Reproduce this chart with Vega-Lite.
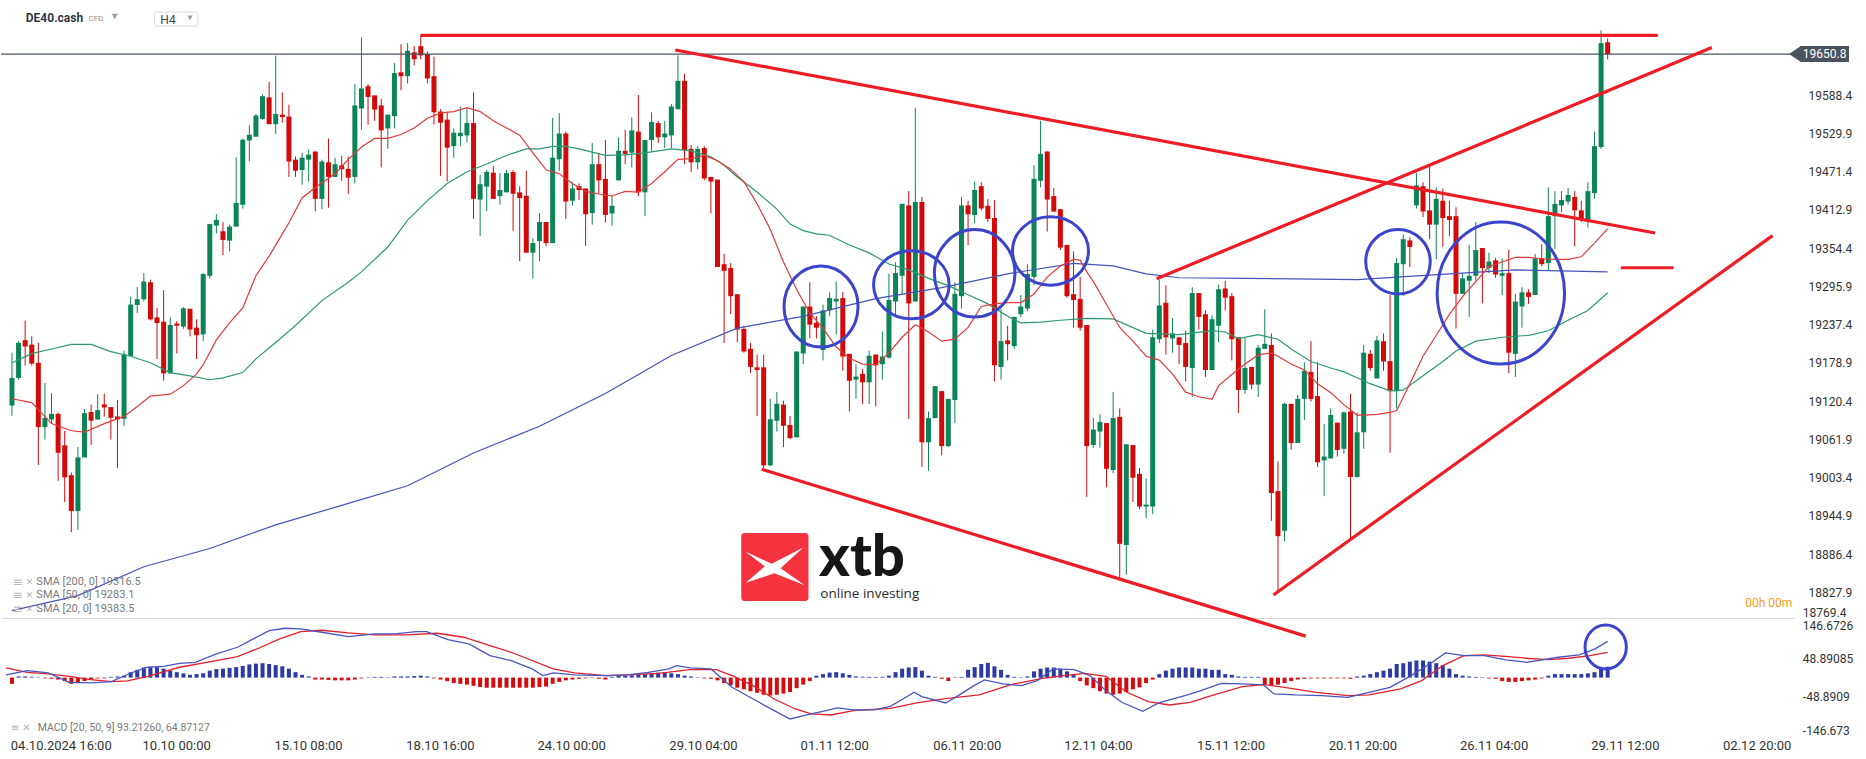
{
"$schema": "https://vega.github.io/schema/vega-lite/v6.json",
"padding": 0,
"background": "white",
"spacing": 2,
"bounds": "flush",
"config": {"view": {"stroke": null}},
"datasets": {
"candles": [
{"i":0,"o":19113.5,"h":19194.5,"l":19097.9,"c":19155.8},{"i":1,"o":19155.8,"h":19211.9,"l":19153.0,"c":19209.5},{"i":2,"o":19213.6,"h":19243.7,"l":19174.8,"c":19203.8},{"i":3,"o":19206.7,"h":19219.4,"l":19174.8,"c":19177.7},{"i":4,"o":19178.9,"h":19209.5,"l":19022.8,"c":19080.6},{"i":5,"o":19080.6,"h":19148.2,"l":19061.5,"c":19094.5},{"i":6,"o":19092.2,"h":19132.6,"l":19086.4,"c":19100.8},{"i":7,"o":19100.8,"h":19103.0,"l":18998.5,"c":19041.3},{"i":8,"o":19052.8,"h":19074.8,"l":18966.1,"c":19003.7},{"i":9,"o":19007.1,"h":19011.2,"l":18919.8,"c":18952.2},
{"i":10,"o":18952.2,"h":19050.0,"l":18923.3,"c":19034.3},{"i":11,"o":19034.3,"h":19108.3,"l":19034.3,"c":19102.0},{"i":12,"o":19103.7,"h":19115.3,"l":19053.4,"c":19090.4},{"i":13,"o":19092.2,"h":19130.9,"l":19092.0,"c":19106.6},{"i":14,"o":19115.3,"h":19131.5,"l":19096.8,"c":19110.7},{"i":15,"o":19111.2,"h":19111.2,"l":19061.5,"c":19095.0},{"i":16,"o":19096.8,"h":19122.2,"l":19018.1,"c":19092.2},{"i":17,"o":19093.3,"h":19197.4,"l":19082.3,"c":19191.6},{"i":18,"o":19189.3,"h":19280.1,"l":19189.3,"c":19268.0},{"i":19,"o":19267.4,"h":19294.6,"l":19255.2,"c":19276.1},
{"i":20,"o":19276.1,"h":19316.0,"l":19272.6,"c":19303.2},{"i":21,"o":19302.1,"h":19306.1,"l":19243.7,"c":19245.4},{"i":22,"o":19248.3,"h":19262.8,"l":19184.7,"c":19239.6},{"i":23,"o":19241.9,"h":19289.9,"l":19151.7,"c":19162.7},{"i":24,"o":19162.7,"h":19248.3,"l":19162.7,"c":19236.7},{"i":25,"o":19239.0,"h":19242.5,"l":19193.4,"c":19235.6},{"i":26,"o":19234.4,"h":19263.9,"l":19231.0,"c":19262.2},{"i":27,"o":19261.6,"h":19261.6,"l":19219.4,"c":19229.8},{"i":28,"o":19232.7,"h":19245.4,"l":19184.7,"c":19221.1},{"i":29,"o":19222.3,"h":19316.0,"l":19211.9,"c":19314.8},
{"i":30,"o":19311.9,"h":19391.1,"l":19307.9,"c":19391.1},{"i":31,"o":19388.8,"h":19406.2,"l":19376.7,"c":19397.5},{"i":32,"o":19380.1,"h":19394.0,"l":19343.7,"c":19366.8},{"i":33,"o":19365.7,"h":19390.0,"l":19349.5,"c":19387.1},{"i":34,"o":19387.1,"h":19492.9,"l":19387.1,"c":19423.5},{"i":35,"o":19420.6,"h":19521.8,"l":19414.8,"c":19520.1},{"i":36,"o":19518.9,"h":19542.1,"l":19487.1,"c":19527.6},{"i":37,"o":19524.7,"h":19559.4,"l":19524.7,"c":19557.1},{"i":38,"o":19551.9,"h":19589.5,"l":19550.7,"c":19586.6},{"i":39,"o":19584.9,"h":19608.6,"l":19543.8,"c":19543.8},
{"i":40,"o":19543.8,"h":19648.5,"l":19528.8,"c":19559.4},{"i":41,"o":19558.3,"h":19592.4,"l":19546.1,"c":19554.8},{"i":42,"o":19555.5,"h":19573.7,"l":19463.2,"c":19486.7},{"i":43,"o":19489.6,"h":19494.3,"l":19463.2,"c":19472.6},{"i":44,"o":19473.7,"h":19500.2,"l":19451.4,"c":19492.6},{"i":45,"o":19489.6,"h":19505.0,"l":19456.1,"c":19497.3},{"i":46,"o":19502.0,"h":19502.0,"l":19410.8,"c":19429.6},{"i":47,"o":19429.6,"h":19489.6,"l":19413.8,"c":19486.7},{"i":48,"o":19485.5,"h":19522.0,"l":19416.1,"c":19463.2},{"i":49,"o":19463.2,"h":19492.6,"l":19463.2,"c":19482.6},
{"i":50,"o":19480.8,"h":19495.5,"l":19457.3,"c":19474.9},{"i":51,"o":19475.5,"h":19494.3,"l":19437.3,"c":19462.0},{"i":52,"o":19463.2,"h":19604.9,"l":19453.2,"c":19572.5},{"i":53,"o":19567.8,"h":19676.6,"l":19535.5,"c":19598.4},{"i":54,"o":19601.9,"h":19604.9,"l":19543.1,"c":19585.5},{"i":55,"o":19587.8,"h":19587.8,"l":19549.0,"c":19566.1},{"i":56,"o":19572.5,"h":19582.5,"l":19477.8,"c":19534.3},{"i":57,"o":19537.3,"h":19558.4,"l":19506.1,"c":19558.4},{"i":58,"o":19556.1,"h":19637.2,"l":19537.3,"c":19621.9},{"i":59,"o":19623.1,"h":19666.0,"l":19595.5,"c":19617.2},
{"i":60,"o":19617.2,"h":19667.8,"l":19606.1,"c":19656.1},{"i":61,"o":19653.7,"h":19663.1,"l":19633.7,"c":19643.1},{"i":62,"o":19663.1,"h":19680.8,"l":19643.1,"c":19649.0},{"i":63,"o":19651.3,"h":19654.9,"l":19606.1,"c":19613.7},{"i":64,"o":19617.2,"h":19647.2,"l":19543.1,"c":19562.0},{"i":65,"o":19563.1,"h":19566.7,"l":19464.9,"c":19546.1},{"i":66,"o":19550.8,"h":19561.9,"l":19456.1,"c":19507.9},{"i":67,"o":19510.2,"h":19537.3,"l":19492.6,"c":19530.8},{"i":68,"o":19525.5,"h":19570.8,"l":19510.2,"c":19530.8},{"i":69,"o":19526.7,"h":19569.0,"l":19516.1,"c":19545.5},
{"i":70,"o":19545.5,"h":19592.5,"l":19399.0,"c":19429.6},{"i":71,"o":19428.5,"h":19466.1,"l":19372.6,"c":19452.0},{"i":72,"o":19448.4,"h":19473.7,"l":19410.8,"c":19470.8},{"i":73,"o":19469.6,"h":19479.6,"l":19429.6,"c":19429.6},{"i":74,"o":19433.8,"h":19469.0,"l":19420.8,"c":19443.2},{"i":75,"o":19439.6,"h":19473.7,"l":19439.6,"c":19469.0},{"i":76,"o":19470.8,"h":19473.7,"l":19380.8,"c":19437.3},{"i":77,"o":19439.6,"h":19449.0,"l":19334.4,"c":19430.8},{"i":78,"o":19434.3,"h":19472.6,"l":19347.3,"c":19347.3},{"i":79,"o":19347.3,"h":19369.6,"l":19307.9,"c":19362.0},
{"i":80,"o":19365.0,"h":19407.9,"l":19334.4,"c":19394.3},{"i":81,"o":19394.3,"h":19394.3,"l":19357.3,"c":19362.0},{"i":82,"o":19362.0,"h":19553.1,"l":19362.0,"c":19492.6},{"i":83,"o":19490.2,"h":19560.8,"l":19472.6,"c":19529.6},{"i":84,"o":19529.6,"h":19532.5,"l":19399.0,"c":19425.5},{"i":85,"o":19426.7,"h":19454.9,"l":19419.6,"c":19445.5},{"i":86,"o":19449.0,"h":19453.2,"l":19427.9,"c":19443.2},{"i":87,"o":19445.5,"h":19445.5,"l":19357.9,"c":19406.1},{"i":88,"o":19407.9,"h":19514.9,"l":19390.2,"c":19482.6},{"i":89,"o":19482.6,"h":19500.2,"l":19437.3,"c":19457.9},
{"i":90,"o":19460.2,"h":19519.6,"l":19393.2,"c":19404.9},{"i":91,"o":19407.3,"h":19434.3,"l":19388.5,"c":19419.0},{"i":92,"o":19457.9,"h":19523.7,"l":19457.9,"c":19503.1},{"i":93,"o":19503.1,"h":19535.5,"l":19482.6,"c":19498.4},{"i":94,"o":19500.2,"h":19554.3,"l":19477.8,"c":19534.3},{"i":95,"o":19532.5,"h":19588.4,"l":19433.8,"c":19439.6},{"i":96,"o":19439.6,"h":19519.6,"l":19403.2,"c":19519.6},{"i":97,"o":19519.6,"h":19562.0,"l":19502.0,"c":19547.2},{"i":98,"o":19545.5,"h":19549.0,"l":19514.9,"c":19523.7},{"i":99,"o":19523.7,"h":19549.0,"l":19507.3,"c":19529.6},
{"i":100,"o":19526.7,"h":19574.9,"l":19507.3,"c":19570.8},{"i":101,"o":19566.7,"h":19649.0,"l":19566.7,"c":19610.2},{"i":102,"o":19610.2,"h":19620.8,"l":19482.6,"c":19504.3},{"i":103,"o":19506.1,"h":19512.0,"l":19470.8,"c":19485.5},{"i":104,"o":19485.5,"h":19510.2,"l":19474.9,"c":19506.1},{"i":105,"o":19507.3,"h":19510.2,"l":19457.9,"c":19460.8},{"i":106,"o":19463.2,"h":19463.2,"l":19407.3,"c":19456.1},{"i":107,"o":19459.0,"h":19459.0,"l":19325.5,"c":19325.5},{"i":108,"o":19329.7,"h":19345.5,"l":19209.1,"c":19319.7},{"i":109,"o":19323.8,"h":19331.4,"l":19253.2,"c":19280.8},
{"i":110,"o":19283.8,"h":19283.8,"l":19210.3,"c":19229.7},{"i":111,"o":19230.9,"h":19235.6,"l":19194.4,"c":19196.2},{"i":112,"o":19200.3,"h":19209.1,"l":19163.2,"c":19172.6},{"i":113,"o":19172.0,"h":19191.5,"l":19097.3,"c":19167.9},{"i":114,"o":19172.0,"h":19191.5,"l":19018.0,"c":19022.1},{"i":115,"o":19022.1,"h":19123.8,"l":19020.9,"c":19092.6},{"i":116,"o":19090.3,"h":19134.4,"l":19073.8,"c":19116.2},{"i":117,"o":19115.0,"h":19120.9,"l":19050.3,"c":19082.6},{"i":118,"o":19083.8,"h":19097.3,"l":19062.1,"c":19063.8},{"i":119,"o":19065.0,"h":19196.2,"l":19065.0,"c":19196.2},
{"i":120,"o":19193.2,"h":19265.0,"l":19176.8,"c":19265.0},{"i":121,"o":19265.0,"h":19302.0,"l":19216.2,"c":19237.3},{"i":122,"o":19240.2,"h":19250.3,"l":19216.2,"c":19232.6},{"i":123,"o":19198.5,"h":19267.9,"l":19182.6,"c":19259.1},{"i":124,"o":19259.1,"h":19286.7,"l":19250.3,"c":19277.9},{"i":125,"o":19272.6,"h":19303.2,"l":19222.0,"c":19276.7},{"i":126,"o":19277.9,"h":19287.3,"l":19166.7,"c":19188.5},{"i":127,"o":19192.6,"h":19192.6,"l":19104.4,"c":19151.5},{"i":128,"o":19153.2,"h":19176.8,"l":19123.8,"c":19157.9},{"i":129,"o":19162.0,"h":19169.1,"l":19116.2,"c":19149.1},
{"i":130,"o":19149.1,"h":19197.3,"l":19116.2,"c":19189.7},{"i":131,"o":19191.5,"h":19191.5,"l":19112.1,"c":19175.0},{"i":132,"o":19176.8,"h":19226.7,"l":19153.2,"c":19188.5},{"i":133,"o":19186.8,"h":19314.9,"l":19185.6,"c":19275.0},{"i":134,"o":19272.6,"h":19332.6,"l":19250.3,"c":19316.1},{"i":135,"o":19312.0,"h":19422.0,"l":19282.6,"c":19422.0},{"i":136,"o":19419.6,"h":19441.4,"l":19093.2,"c":19269.7},{"i":137,"o":19272.6,"h":19569.0,"l":19272.6,"c":19424.9},{"i":138,"o":19424.9,"h":19432.6,"l":19019.7,"c":19057.4},{"i":139,"o":19057.4,"h":19104.4,"l":19013.8,"c":19094.4},
{"i":140,"o":19094.4,"h":19143.2,"l":19094.4,"c":19143.2},{"i":141,"o":19135.6,"h":19135.6,"l":19037.4,"c":19051.5},{"i":142,"o":19051.5,"h":19123.8,"l":19050.3,"c":19123.8},{"i":143,"o":19122.0,"h":19302.0,"l":19086.8,"c":19284.4},{"i":144,"o":19280.8,"h":19432.6,"l":19262.0,"c":19419.6},{"i":145,"o":19419.6,"h":19426.7,"l":19359.1,"c":19406.1},{"i":146,"o":19404.9,"h":19456.1,"l":19392.6,"c":19443.2},{"i":147,"o":19449.0,"h":19454.9,"l":19412.0,"c":19414.9},{"i":148,"o":19419.0,"h":19429.6,"l":19394.4,"c":19399.0},{"i":149,"o":19400.2,"h":19427.9,"l":19150.3,"c":19175.0},
{"i":150,"o":19172.6,"h":19260.8,"l":19153.2,"c":19212.1},{"i":151,"o":19213.2,"h":19235.6,"l":19182.6,"c":19207.4},{"i":152,"o":19204.4,"h":19249.1,"l":19200.3,"c":19249.1},{"i":153,"o":19253.2,"h":19282.6,"l":19249.1,"c":19265.0},{"i":154,"o":19262.0,"h":19329.7,"l":19257.9,"c":19314.9},{"i":155,"o":19310.2,"h":19480.8,"l":19297.3,"c":19460.2},{"i":156,"o":19457.3,"h":19549.0,"l":19447.3,"c":19498.4},{"i":157,"o":19502.0,"h":19502.0,"l":19379.6,"c":19428.5},{"i":158,"o":19433.8,"h":19446.1,"l":19410.2,"c":19410.2},{"i":159,"o":19413.8,"h":19413.8,"l":19351.4,"c":19355.0},
{"i":160,"o":19359.1,"h":19359.1,"l":19278.5,"c":19280.8},{"i":161,"o":19283.8,"h":19349.1,"l":19232.6,"c":19274.9},{"i":162,"o":19276.7,"h":19310.2,"l":19227.9,"c":19232.6},{"i":163,"o":19236.7,"h":19236.7,"l":18973.9,"c":19051.5},{"i":164,"o":19053.3,"h":19094.4,"l":19049.1,"c":19076.8},{"i":165,"o":19073.8,"h":19100.3,"l":19049.1,"c":19088.5},{"i":166,"o":19086.8,"h":19086.8,"l":18988.6,"c":19016.8},{"i":167,"o":19015.0,"h":19134.4,"l":19010.3,"c":19094.4},{"i":168,"o":19096.2,"h":19109.1,"l":18850.3,"c":18902.1},{"i":169,"o":18900.4,"h":19054.4,"l":18855.1,"c":19054.4},
{"i":170,"o":19053.3,"h":19053.3,"l":18966.2,"c":19003.3},{"i":171,"o":19009.1,"h":19018.0,"l":18955.0,"c":18959.1},{"i":172,"o":18959.1,"h":19002.1,"l":18941.5,"c":18962.1},{"i":173,"o":18959.1,"h":19229.7,"l":18947.4,"c":19217.9},{"i":174,"o":19215.0,"h":19306.1,"l":19209.1,"c":19266.7},{"i":175,"o":19270.8,"h":19297.3,"l":19191.5,"c":19217.9},{"i":176,"o":19216.2,"h":19247.3,"l":19194.4,"c":19223.8},{"i":177,"o":19217.9,"h":19217.9,"l":19176.8,"c":19206.2},{"i":178,"o":19209.1,"h":19227.9,"l":19150.3,"c":19172.6},{"i":179,"o":19170.9,"h":19294.4,"l":19126.8,"c":19285.6},
{"i":180,"o":19285.6,"h":19285.6,"l":19229.7,"c":19249.1},{"i":181,"o":19253.2,"h":19259.1,"l":19157.3,"c":19167.9},{"i":182,"o":19167.9,"h":19251.4,"l":19167.9,"c":19245.6},{"i":183,"o":19235.6,"h":19298.5,"l":19210.3,"c":19291.4},{"i":184,"o":19292.6,"h":19304.4,"l":19259.1,"c":19278.5},{"i":185,"o":19280.8,"h":19285.6,"l":19182.6,"c":19215.0},{"i":186,"o":19217.9,"h":19217.9,"l":19102.1,"c":19137.4},{"i":187,"o":19137.4,"h":19217.9,"l":19131.5,"c":19170.9},{"i":188,"o":19172.6,"h":19172.6,"l":19138.5,"c":19145.6},{"i":189,"o":19145.6,"h":19206.1,"l":19126.8,"c":19202.0},
{"i":190,"o":19200.3,"h":19260.8,"l":19200.3,"c":19207.9},{"i":191,"o":19206.1,"h":19223.8,"l":18937.4,"c":18979.7},{"i":192,"o":18982.7,"h":19028.0,"l":18826.8,"c":18913.8},{"i":193,"o":18922.1,"h":19117.9,"l":18906.2,"c":19116.2},{"i":194,"o":19116.2,"h":19116.2,"l":19046.2,"c":19056.2},{"i":195,"o":19056.2,"h":19129.7,"l":19056.2,"c":19123.8},{"i":196,"o":19123.8,"h":19179.7,"l":19091.5,"c":19166.8},{"i":197,"o":19165.0,"h":19212.0,"l":19119.7,"c":19123.8},{"i":198,"o":19127.9,"h":19179.7,"l":19019.7,"c":19026.8},{"i":199,"o":19029.7,"h":19085.6,"l":18975.0,"c":19035.6},
{"i":200,"o":19032.6,"h":19109.1,"l":19032.6,"c":19099.1},{"i":201,"o":19087.4,"h":19087.4,"l":19035.6,"c":19045.6},{"i":202,"o":19047.4,"h":19104.4,"l":19039.7,"c":19103.2},{"i":203,"o":19104.4,"h":19131.5,"l":18910.3,"c":19004.4},{"i":204,"o":19004.4,"h":19103.2,"l":19003.3,"c":19072.7},{"i":205,"o":19072.7,"h":19206.1,"l":19047.4,"c":19194.4},{"i":206,"o":19192.6,"h":19198.5,"l":19166.8,"c":19170.9},{"i":207,"o":19155.0,"h":19219.7,"l":19155.0,"c":19213.2},{"i":208,"o":19212.0,"h":19223.8,"l":19166.8,"c":19180.9},{"i":209,"o":19181.5,"h":19282.6,"l":19041.5,"c":19135.6},
{"i":210,"o":19135.6,"h":19339.6,"l":19109.1,"c":19331.4},{"i":211,"o":19329.7,"h":19375.0,"l":19280.8,"c":19367.9},{"i":212,"o":19366.1,"h":19370.8,"l":19325.5,"c":19356.1},{"i":213,"o":19419.6,"h":19469.0,"l":19415.0,"c":19450.2},{"i":214,"o":19449.0,"h":19454.9,"l":19402.0,"c":19410.2},{"i":215,"o":19412.0,"h":19479.6,"l":19367.9,"c":19390.2},{"i":216,"o":19390.2,"h":19447.3,"l":19337.3,"c":19429.6},{"i":217,"o":19426.7,"h":19445.5,"l":19356.1,"c":19400.2},{"i":218,"o":19403.2,"h":19426.7,"l":19372.6,"c":19397.3},{"i":219,"o":19403.2,"h":19416.7,"l":19231.4,"c":19284.4},
{"i":220,"o":19284.4,"h":19316.1,"l":19284.4,"c":19308.0},{"i":221,"o":19304.4,"h":19359.1,"l":19249.1,"c":19312.0},{"i":222,"o":19312.0,"h":19394.3,"l":19304.4,"c":19351.4},{"i":223,"o":19354.4,"h":19354.4,"l":19269.7,"c":19323.8},{"i":224,"o":19323.8,"h":19347.3,"l":19316.1,"c":19333.8},{"i":225,"o":19335.6,"h":19339.6,"l":19309.1,"c":19313.8},{"i":226,"o":19312.0,"h":19338.5,"l":19282.6,"c":19316.1},{"i":227,"o":19316.1,"h":19351.4,"l":19163.2,"c":19194.4},{"i":228,"o":19192.6,"h":19284.4,"l":19157.3,"c":19272.6},{"i":229,"o":19265.0,"h":19294.4,"l":19232.6,"c":19286.7},
{"i":230,"o":19286.7,"h":19291.4,"l":19269.1,"c":19279.7},{"i":231,"o":19282.6,"h":19345.5,"l":19282.6,"c":19338.5},{"i":232,"o":19338.5,"h":19360.2,"l":19326.7,"c":19329.7},{"i":233,"o":19331.4,"h":19447.3,"l":19319.7,"c":19403.2},{"i":234,"o":19403.2,"h":19441.4,"l":19353.2,"c":19422.0},{"i":235,"o":19419.6,"h":19441.4,"l":19409.0,"c":19427.9},{"i":236,"o":19425.5,"h":19446.1,"l":19420.8,"c":19435.5},{"i":237,"o":19432.6,"h":19441.4,"l":19357.3,"c":19412.0},{"i":238,"o":19412.0,"h":19426.7,"l":19394.3,"c":19400.2},{"i":239,"o":19397.3,"h":19454.9,"l":19385.5,"c":19441.4},
{"i":240,"o":19438.5,"h":19532.5,"l":19429.6,"c":19510.2},{"i":241,"o":19509.0,"h":19687.2,"l":19506.1,"c":19667.8},{"i":242,"o":19669.0,"h":19674.9,"l":19643.1,"c":19650.8}
],
"sma20": [
{"i":0,"v":19124},{"i":3,"v":19118},{"i":6,"v":19086},{"i":9,"v":19075},{"i":11,"v":19073},{"i":14,"v":19086},{"i":17,"v":19097},{"i":19,"v":19112},{"i":21,"v":19128},{"i":24,"v":19131},{"i":26,"v":19144},{"i":28,"v":19162},{"i":29,"v":19176},{"i":31,"v":19214},{"i":33,"v":19240},{"i":35,"v":19263},{"i":37,"v":19312},{"i":39,"v":19342},{"i":41,"v":19376},{"i":42,"v":19393},{"i":44,"v":19431},{"i":46,"v":19447},{"i":49,"v":19468},{"i":51,"v":19490},{"i":53,"v":19509},{"i":55,"v":19522},{"i":57,"v":19522},{"i":59,"v":19528},{"i":61,"v":19538},{"i":63,"v":19553},{"i":65,"v":19561},{"i":67,"v":19563},{"i":69,"v":19569},{"i":71,"v":19563},{"i":73,"v":19549},{"i":75,"v":19538},{"i":77,"v":19527},{"i":79,"v":19500},{"i":81,"v":19474},{"i":83,"v":19468},{"i":85,"v":19453},{"i":87,"v":19441},{"i":89,"v":19437},{"i":91,"v":19434},{"i":93,"v":19441},{"i":95,"v":19440},{"i":97,"v":19453},{"i":99,"v":19471},{"i":101,"v":19490},{"i":103,"v":19491},{"i":105,"v":19496},{"i":107,"v":19488},{"i":109,"v":19475},{"i":111,"v":19456},{"i":113,"v":19422},{"i":115,"v":19383},{"i":117,"v":19333},{"i":119,"v":19291},{"i":121,"v":19255},{"i":123,"v":19232},{"i":125,"v":19203},{"i":127,"v":19186},{"i":129,"v":19177},{"i":131,"v":19176},{"i":133,"v":19194},{"i":135,"v":19218},{"i":137,"v":19237},{"i":139,"v":19226},{"i":141,"v":19212},{"i":143,"v":19215},{"i":145,"v":19233},{"i":147,"v":19265},{"i":149,"v":19269},{"i":151,"v":19271},{"i":153,"v":19271},{"i":155,"v":19284},{"i":157,"v":19310},{"i":159,"v":19327},{"i":161,"v":19337},{"i":162,"v":19336},{"i":163,"v":19318},{"i":164,"v":19303},{"i":166,"v":19268},{"i":168,"v":19233},{"i":170,"v":19212},{"i":172,"v":19189},{"i":174,"v":19183},{"i":176,"v":19162},{"i":178,"v":19134},{"i":180,"v":19127},{"i":182,"v":19123},{"i":183,"v":19144},{"i":185,"v":19161},{"i":187,"v":19177},{"i":189,"v":19191},{"i":191,"v":19194},{"i":192,"v":19189},{"i":194,"v":19177},{"i":196,"v":19168},{"i":198,"v":19147},{"i":200,"v":19133},{"i":202,"v":19115},{"i":204,"v":19099},{"i":205,"v":19099},{"i":207,"v":19100},{"i":209,"v":19103},{"i":210,"v":19106},{"i":212,"v":19147},{"i":214,"v":19189},{"i":216,"v":19221},{"i":218,"v":19253},{"i":220,"v":19280},{"i":222,"v":19303},{"i":224,"v":19326},{"i":226,"v":19333},{"i":228,"v":19340},{"i":230,"v":19340},{"i":232,"v":19338},{"i":234,"v":19337},{"i":236,"v":19337},{"i":238,"v":19341},{"i":240,"v":19362},{"i":242,"v":19384}
],
"sma50": [
{"i":0,"v":19179},{"i":3,"v":19193},{"i":6,"v":19200},{"i":9,"v":19207},{"i":12,"v":19207},{"i":15,"v":19196},{"i":18,"v":19189},{"i":21,"v":19179},{"i":24,"v":19164},{"i":27,"v":19159},{"i":30,"v":19153},{"i":32,"v":19156},{"i":35,"v":19164},{"i":37,"v":19185},{"i":40,"v":19210},{"i":43,"v":19236},{"i":47,"v":19274},{"i":51,"v":19302},{"i":53,"v":19318},{"i":57,"v":19356},{"i":60,"v":19397},{"i":63,"v":19427},{"i":66,"v":19453},{"i":69,"v":19471},{"i":72,"v":19483},{"i":75,"v":19496},{"i":78,"v":19506},{"i":80,"v":19506},{"i":82,"v":19510},{"i":84,"v":19510},{"i":86,"v":19506},{"i":90,"v":19496},{"i":93,"v":19497},{"i":96,"v":19500},{"i":100,"v":19506},{"i":103,"v":19503},{"i":106,"v":19494},{"i":108,"v":19481},{"i":110,"v":19463},{"i":113,"v":19440},{"i":116,"v":19414},{"i":118,"v":19391},{"i":120,"v":19381},{"i":122,"v":19376},{"i":124,"v":19374},{"i":127,"v":19359},{"i":130,"v":19347},{"i":133,"v":19330},{"i":136,"v":19321},{"i":139,"v":19308},{"i":142,"v":19297},{"i":145,"v":19283},{"i":148,"v":19269},{"i":151,"v":19250},{"i":153,"v":19240},{"i":156,"v":19241},{"i":159,"v":19244},{"i":163,"v":19247},{"i":167,"v":19246},{"i":172,"v":19224},{"i":177,"v":19222},{"i":182,"v":19228},{"i":184,"v":19226},{"i":186,"v":19216},{"i":189,"v":19222},{"i":192,"v":19215},{"i":194,"v":19200},{"i":197,"v":19181},{"i":200,"v":19171},{"i":202,"v":19165},{"i":204,"v":19156},{"i":206,"v":19147},{"i":209,"v":19136},{"i":211,"v":19137},{"i":214,"v":19159},{"i":217,"v":19181},{"i":219,"v":19197},{"i":222,"v":19212},{"i":226,"v":19218},{"i":230,"v":19221},{"i":233,"v":19228},{"i":236,"v":19244},{"i":239,"v":19259},{"i":242,"v":19286}
],
"sma200": [
{"i":0,"v":18800},{"i":10,"v":18823},{"i":20,"v":18867},{"i":30,"v":18895},{"i":40,"v":18931},{"i":50,"v":18961},{"i":60,"v":18991},{"i":70,"v":19041},{"i":80,"v":19082},{"i":90,"v":19132},{"i":100,"v":19190},{"i":110,"v":19232},{"i":120,"v":19250},{"i":131,"v":19277},{"i":141,"v":19294},{"i":151,"v":19315},{"i":161,"v":19331},{"i":167,"v":19327},{"i":172,"v":19315},{"i":177,"v":19309},{"i":187,"v":19308},{"i":204,"v":19306},{"i":218,"v":19315},{"i":228,"v":19321},{"i":242,"v":19318}
],
"draw": [
{"g":"a","i":62.0,"p":19679.5},{"g":"a","i":249.6,"p":19679.5},
{"g":"b","i":100.6,"p":19657.2},{"g":"b","i":249.2,"p":19377.4},
{"g":"c","i":113.7,"p":19016.2},{"g":"c","i":196.2,"p":18761.0},
{"g":"d","i":173.6,"p":19307.4},{"g":"d","i":257.8,"p":19661.0},
{"g":"e","i":191.3,"p":18823.9},{"g":"e","i":267.0,"p":19373.4},
{"g":"f","i":244.0,"p":19324.3},{"g":"f","i":252.0,"p":19324.3}
],
"hist": [
{"i":0,"v":-16},{"i":1,"v":3},{"i":2,"v":3},{"i":3,"v":2},{"i":4,"v":1},{"i":5,"v":-2},{"i":6,"v":-3},{"i":7,"v":-5},{"i":8,"v":-9},{"i":9,"v":-16},{"i":10,"v":-14},{"i":11,"v":-9},{"i":12,"v":-5},{"i":13,"v":-2},{"i":14,"v":-2},{"i":15,"v":2},{"i":16,"v":3},{"i":17,"v":5},{"i":18,"v":14},{"i":19,"v":20},{"i":20,"v":26},{"i":21,"v":27},{"i":22,"v":27},{"i":23,"v":23},{"i":24,"v":18},{"i":25,"v":14},{"i":26,"v":11},{"i":27,"v":7},{"i":28,"v":9},{"i":29,"v":11},{"i":30,"v":18},{"i":31,"v":22},{"i":32,"v":23},{"i":33,"v":25},{"i":34,"v":27},{"i":35,"v":30},{"i":36,"v":34},{"i":37,"v":36},{"i":38,"v":37},{"i":39,"v":35},{"i":40,"v":32},{"i":41,"v":29},{"i":42,"v":23},{"i":43,"v":14},{"i":44,"v":7},{"i":45,"v":3},{"i":46,"v":-5},{"i":47,"v":-5},{"i":48,"v":-6},{"i":49,"v":-7},{"i":50,"v":-7},{"i":51,"v":-7},{"i":52,"v":-5},{"i":53,"v":-2},{"i":54,"v":1},{"i":55,"v":2},{"i":56,"v":2},{"i":57,"v":1},{"i":58,"v":3},{"i":59,"v":3},{"i":60,"v":3},{"i":61,"v":4},{"i":62,"v":5},{"i":63,"v":3},{"i":64,"v":-2},{"i":65,"v":-5},{"i":66,"v":-9},{"i":67,"v":-14},{"i":68,"v":-16},{"i":69,"v":-18},{"i":70,"v":-21},{"i":71,"v":-24},{"i":72,"v":-26},{"i":73,"v":-26},{"i":74,"v":-26},{"i":75,"v":-26},{"i":76,"v":-26},{"i":77,"v":-26},{"i":78,"v":-26},{"i":79,"v":-26},{"i":80,"v":-24},{"i":81,"v":-23},{"i":82,"v":-16},{"i":83,"v":-11},{"i":84,"v":-7},{"i":85,"v":-5},{"i":86,"v":-3},{"i":87,"v":-2},{"i":88,"v":-1},{"i":89,"v":-3},{"i":90,"v":-5},{"i":91,"v":2},{"i":92,"v":5},{"i":93,"v":5},{"i":94,"v":6},{"i":95,"v":7},{"i":96,"v":9},{"i":97,"v":11},{"i":98,"v":13},{"i":99,"v":13},{"i":100,"v":11},{"i":101,"v":9},{"i":102,"v":5},{"i":103,"v":3},{"i":104,"v":1},{"i":105,"v":-2},{"i":106,"v":-3},{"i":107,"v":-7},{"i":108,"v":-14},{"i":109,"v":-20},{"i":110,"v":-26},{"i":111,"v":-30},{"i":112,"v":-35},{"i":113,"v":-39},{"i":114,"v":-44},{"i":115,"v":-46},{"i":116,"v":-44},{"i":117,"v":-41},{"i":118,"v":-37},{"i":119,"v":-27},{"i":120,"v":-18},{"i":121,"v":-9},{"i":122,"v":5},{"i":123,"v":9},{"i":124,"v":13},{"i":125,"v":14},{"i":126,"v":11},{"i":127,"v":7},{"i":128,"v":3},{"i":129,"v":2},{"i":130,"v":2},{"i":131,"v":2},{"i":132,"v":2},{"i":133,"v":5},{"i":134,"v":14},{"i":135,"v":23},{"i":136,"v":26},{"i":137,"v":27},{"i":138,"v":18},{"i":139,"v":5},{"i":140,"v":2},{"i":141,"v":-3},{"i":142,"v":-9},{"i":143,"v":-1},{"i":144,"v":2},{"i":145,"v":20},{"i":146,"v":27},{"i":147,"v":35},{"i":148,"v":38},{"i":149,"v":29},{"i":150,"v":20},{"i":151,"v":7},{"i":152,"v":2},{"i":153,"v":1},{"i":154,"v":3},{"i":155,"v":16},{"i":156,"v":23},{"i":157,"v":26},{"i":158,"v":26},{"i":159,"v":23},{"i":160,"v":16},{"i":161,"v":9},{"i":162,"v":-9},{"i":163,"v":-20},{"i":164,"v":-27},{"i":165,"v":-35},{"i":166,"v":-41},{"i":167,"v":-44},{"i":168,"v":-41},{"i":169,"v":-37},{"i":170,"v":-30},{"i":171,"v":-25},{"i":172,"v":-14},{"i":173,"v":-5},{"i":174,"v":9},{"i":175,"v":18},{"i":176,"v":23},{"i":177,"v":26},{"i":178,"v":26},{"i":179,"v":26},{"i":180,"v":23},{"i":181,"v":23},{"i":182,"v":20},{"i":183,"v":20},{"i":184,"v":9},{"i":185,"v":7},{"i":186,"v":3},{"i":187,"v":2},{"i":188,"v":2},{"i":189,"v":2},{"i":190,"v":-18},{"i":191,"v":-20},{"i":192,"v":-18},{"i":193,"v":-14},{"i":194,"v":-9},{"i":195,"v":-5},{"i":196,"v":-3},{"i":197,"v":-2},{"i":198,"v":-2},{"i":199,"v":-2},{"i":200,"v":-2},{"i":201,"v":-2},{"i":202,"v":-2},{"i":203,"v":-3},{"i":204,"v":3},{"i":205,"v":5},{"i":206,"v":9},{"i":207,"v":14},{"i":208,"v":18},{"i":209,"v":23},{"i":210,"v":35},{"i":211,"v":37},{"i":212,"v":41},{"i":213,"v":44},{"i":214,"v":44},{"i":215,"v":41},{"i":216,"v":37},{"i":217,"v":32},{"i":218,"v":23},{"i":219,"v":9},{"i":220,"v":5},{"i":221,"v":3},{"i":222,"v":2},{"i":223,"v":1},{"i":224,"v":-2},{"i":225,"v":-3},{"i":226,"v":-9},{"i":227,"v":-11},{"i":228,"v":-11},{"i":229,"v":-9},{"i":230,"v":-7},{"i":231,"v":-5},{"i":232,"v":-2},{"i":233,"v":5},{"i":234,"v":9},{"i":235,"v":9},{"i":236,"v":9},{"i":237,"v":9},{"i":238,"v":9},{"i":239,"v":11},{"i":240,"v":14},{"i":241,"v":23},{"i":242,"v":28}
],
"macd": [
{"i":-0.9,"v":6.9},{"i":2.3,"v":18.0},{"i":5.5,"v":12.0},{"i":8.7,"v":-12.0},{"i":11.9,"v":-13.7},{"i":15.1,"v":-10.3},{"i":18.3,"v":13.7},{"i":20.6,"v":26.6},{"i":23,"v":29.1},{"i":25.4,"v":36.8},{"i":27.8,"v":39.4},{"i":31,"v":60.8},{"i":34.2,"v":78.0},{"i":36.6,"v":99.4},{"i":39,"v":120.8},{"i":41.4,"v":126.8},{"i":43.8,"v":125.1},{"i":47,"v":116.5},{"i":51,"v":105.4},{"i":55,"v":112.3},{"i":58.1,"v":112.3},{"i":61.3,"v":118.3},{"i":62.9,"v":118.3},{"i":66.1,"v":97.7},{"i":69.3,"v":86.6},{"i":72.5,"v":56.6},{"i":75.7,"v":43.7},{"i":78.9,"v":22.3},{"i":80.5,"v":5.1},{"i":82.1,"v":12.0},{"i":85.3,"v":6.9},{"i":90.1,"v":5.1},{"i":93.3,"v":6.9},{"i":96.5,"v":13.7},{"i":99.6,"v":22.3},{"i":100.8,"v":30.9},{"i":102.8,"v":24.9},{"i":106,"v":22.3},{"i":109.2,"v":-24.9},{"i":112.4,"v":-54.9},{"i":115.6,"v":-84.8},{"i":118,"v":-106.3},{"i":121.2,"v":-93.4},{"i":122.8,"v":-87.4},{"i":125.2,"v":-78.0},{"i":127.6,"v":-83.1},{"i":130.8,"v":-83.1},{"i":133.2,"v":-73.7},{"i":135.6,"v":-50.6},{"i":136.8,"v":-37.7},{"i":138,"v":-48.9},{"i":141.6,"v":-65.1},{"i":143.5,"v":-46.3},{"i":145.9,"v":-20.6},{"i":147.5,"v":-6.0},{"i":150.3,"v":-16.3},{"i":153.1,"v":-20.6},{"i":155.5,"v":-7.7},{"i":157.9,"v":22.3},{"i":161.1,"v":20.6},{"i":163.5,"v":5.1},{"i":165.9,"v":-33.4},{"i":168.3,"v":-63.4},{"i":171.5,"v":-86.5},{"i":173.9,"v":-65.1},{"i":177.9,"v":-46.3},{"i":180.3,"v":-33.4},{"i":183.4,"v":-14.6},{"i":186.6,"v":-16.3},{"i":189.8,"v":-18.9},{"i":191.4,"v":-42.0},{"i":194.6,"v":-44.6},{"i":198.6,"v":-46.3},{"i":202.6,"v":-50.6},{"i":205.8,"v":-37.7},{"i":209,"v":-24.9},{"i":212.2,"v":5.1},{"i":215.4,"v":39.4},{"i":217.4,"v":63.4},{"i":220.2,"v":56.6},{"i":223.3,"v":56.6},{"i":226.5,"v":45.4},{"i":229.7,"v":39.4},{"i":234.5,"v":52.3},{"i":237.7,"v":58.3},{"i":240.1,"v":73.7},{"i":242,"v":93.2}
],
"signal": [
{"i":-0.9,"v":24.9},{"i":2.3,"v":13.7},{"i":5.5,"v":9.4},{"i":8.7,"v":3.4},{"i":11.9,"v":-5.1},{"i":15.1,"v":-10.3},{"i":17.5,"v":-8.6},{"i":20.6,"v":3.4},{"i":25.4,"v":26.6},{"i":31,"v":43.7},{"i":34.2,"v":54.0},{"i":37.4,"v":75.4},{"i":40.6,"v":99.4},{"i":43.8,"v":118.3},{"i":47,"v":121.7},{"i":51,"v":114.8},{"i":55,"v":109.7},{"i":59.7,"v":109.7},{"i":64.5,"v":114.0},{"i":68.5,"v":103.7},{"i":72.5,"v":82.3},{"i":75.7,"v":65.1},{"i":82.1,"v":22.3},{"i":85.3,"v":12.0},{"i":90.1,"v":5.1},{"i":93.3,"v":6.9},{"i":98.1,"v":11.1},{"i":102.8,"v":20.6},{"i":106.8,"v":20.6},{"i":109.2,"v":5.1},{"i":112.4,"v":-20.6},{"i":115.6,"v":-54.9},{"i":118.8,"v":-80.6},{"i":121.2,"v":-93.4},{"i":124.2,"v":-96.0},{"i":127.6,"v":-84.8},{"i":133.2,"v":-78.8},{"i":137.2,"v":-65.1},{"i":141.9,"v":-53.1},{"i":146.7,"v":-44.6},{"i":151.5,"v":-18.0},{"i":156.3,"v":-1.7},{"i":159.5,"v":5.1},{"i":162.7,"v":11.1},{"i":165.9,"v":3.4},{"i":169.1,"v":-37.7},{"i":172.3,"v":-61.7},{"i":175.5,"v":-70.3},{"i":178.7,"v":-63.4},{"i":181.9,"v":-46.3},{"i":186.6,"v":-23.1},{"i":189.8,"v":-18.0},{"i":193,"v":-24.9},{"i":197.8,"v":-37.7},{"i":202.6,"v":-46.3},{"i":205.8,"v":-44.6},{"i":210.6,"v":-29.1},{"i":213.8,"v":-7.7},{"i":217,"v":30.9},{"i":220.2,"v":56.6},{"i":223.3,"v":58.3},{"i":226.5,"v":54.8},{"i":229.7,"v":49.7},{"i":232.9,"v":46.3},{"i":236.1,"v":49.7},{"i":239.3,"v":56.6},{"i":242,"v":64.9}
]
},
"vconcat": [
{
"width": 1793,
"height": 618,
"data": {"values": [{}]},
"layer": [
{"data": {"name": "candles"}, "mark": {"type": "rule", "strokeWidth": 1},
 "encoding": {
  "x": {"field": "i", "type": "quantitative", "scale": {"domain": [-0.905, 269.5], "nice": false, "zero": false},
        "axis": {"orient": "bottom", "labels": false, "ticks": false, "grid": false, "domain": true, "domainColor": "#d6d6d6", "title": null}},
  "y": {"field": "l", "type": "quantitative", "scale": {"domain": [18788.7, 19733.7], "nice": false, "zero": false},
        "axis": {"orient": "right", "values": [18827.9, 18886.4, 18944.9, 19003.4, 19061.9, 19120.4, 19178.9, 19237.4, 19295.9, 19354.4, 19412.9, 19471.4, 19529.9, 19588.4], "format": ".1f", "labelFont": "Roboto", "labelFontSize": 12, "labelColor": "#333333", "ticks": false, "domain": false, "grid": false, "labelPadding": 14, "title": null, "labelFlush": false, "labelOverlap": false}},
  "y2": {"field": "h"},
  "color": {"condition": {"test": "datum.c >= datum.o", "value": "#0b8457"}, "value": "#d20a0a"}
 }},
{"data": {"name": "candles"}, "mark": {"type": "bar", "size": 5},
 "encoding": {
  "x": {"field": "i", "type": "quantitative"},
  "y": {"field": "o", "type": "quantitative"},
  "y2": {"field": "c"},
  "color": {"condition": {"test": "datum.c >= datum.o", "value": "#0b8457"}, "value": "#d20a0a"}
 }},
{"data": {"name": "sma200"}, "mark": {"type": "line", "color": "#4653b8", "strokeWidth": 1.2},
 "encoding": {"x": {"field": "i", "type": "quantitative"}, "y": {"field": "v", "type": "quantitative"}}},
{"data": {"name": "sma50"}, "mark": {"type": "line", "color": "#2a9a70", "strokeWidth": 1.2},
 "encoding": {"x": {"field": "i", "type": "quantitative"}, "y": {"field": "v", "type": "quantitative"}}},
{"data": {"name": "sma20"}, "mark": {"type": "line", "color": "#e4393a", "strokeWidth": 1.2},
 "encoding": {"x": {"field": "i", "type": "quantitative"}, "y": {"field": "v", "type": "quantitative"}}},
{"mark": {"type": "rule", "color": "#4b545e", "strokeWidth": 1.2}, "encoding": {"y": {"datum": 19650.8}}},
{"data": {"name": "draw"}, "mark": {"type": "line", "color": "#ee1c25", "strokeWidth": 3.2, "strokeCap": "butt"},
 "encoding": {"x": {"field": "i", "type": "quantitative"}, "y": {"field": "p", "type": "quantitative"}, "detail": {"field": "g", "type": "nominal"}}},
{"mark": {"type": "point", "shape": "M -0.914 0 A 0.914 1 0 1 0 0.914 0 A 0.914 1 0 1 0 -0.914 0 Z", "size": 6561, "filled": false, "color": "#3b44cc", "strokeWidth": 3, "opacity": 1},
 "encoding": {"x": {"datum": 122.7}, "y": {"datum": 19265.0}}},
{"mark": {"type": "point", "shape": "M -1 0 A 1 0.9 0 1 0 1 0 A 1 0.9 0 1 0 -1 0 Z", "size": 5715, "filled": false, "color": "#3b44cc", "strokeWidth": 3, "opacity": 1},
 "encoding": {"x": {"datum": 136.4}, "y": {"datum": 19298.2}}},
{"mark": {"type": "point", "shape": "M -0.922 0 A 0.922 1 0 1 0 0.922 0 A 0.922 1 0 1 0 -0.922 0 Z", "size": 7639, "filled": false, "color": "#3b44cc", "strokeWidth": 3, "opacity": 1},
 "encoding": {"x": {"datum": 146.0}, "y": {"datum": 19315.8}}},
{"mark": {"type": "point", "shape": "M -1 0 A 1 0.9 0 1 0 1 0 A 1 0.9 0 1 0 -1 0 Z", "size": 5776, "filled": false, "color": "#3b44cc", "strokeWidth": 3, "opacity": 1},
 "encoding": {"x": {"datum": 157.5}, "y": {"datum": 19349.9}}},
{"mark": {"type": "point", "shape": "M -1 0 A 1 1 0 1 0 1 0 A 1 1 0 1 0 -1 0 Z", "size": 4160, "filled": false, "color": "#3b44cc", "strokeWidth": 3, "opacity": 1},
 "encoding": {"x": {"datum": 210.2}, "y": {"datum": 19333.5}}},
{"mark": {"type": "point", "shape": "M -0.897 0 A 0.897 1 0 1 0 0.897 0 A 0.897 1 0 1 0 -0.897 0 Z", "size": 20164, "filled": false, "color": "#3b44cc", "strokeWidth": 3, "opacity": 1},
 "encoding": {"x": {"datum": 225.8}, "y": {"datum": 19285.6}}},
{"mark": {"type": "text", "text": "DE40.cash", "align": "left", "baseline": "middle", "font": "Roboto", "fontSize": 12, "fontWeight": "bold", "color": "#2f3a45"},
 "encoding": {"x": {"datum": 2.1}, "y": {"datum": 19706.1}}},
{"mark": {"type": "text", "text": "CFD", "align": "left", "baseline": "middle", "font": "Roboto", "fontSize": 8, "color": "#8a8f94"},
 "encoding": {"x": {"datum": 11.6}, "y": {"datum": 19705.0}}},
{"mark": {"type": "point", "shape": "triangle-down", "size": 40, "filled": true, "color": "#9aa0a6", "opacity": 1},
 "encoding": {"x": {"datum": 15.6}, "y": {"datum": 19708.5}}},
{"mark": {"type": "rect", "fill": "white", "stroke": "#dcdcdc", "strokeWidth": 1, "cornerRadius": 2},
 "encoding": {"x": {"datum": 21.6}, "x2": {"datum": 28.2}, "y": {"datum": 19715.3}, "y2": {"datum": 19693.9}}},
{"mark": {"type": "text", "text": "H4", "align": "left", "baseline": "middle", "font": "Roboto", "fontSize": 12, "color": "#3a4550"},
 "encoding": {"x": {"datum": 22.5}, "y": {"datum": 19703.5}}},
{"mark": {"type": "point", "shape": "triangle-down", "size": 30, "filled": true, "color": "#9aa0a6", "opacity": 1},
 "encoding": {"x": {"datum": 27.0}, "y": {"datum": 19706.5}}},
{"mark": {"type": "rect", "color": "#f4333f", "cornerRadius": 3},
 "encoding": {"x": {"datum": 110.6}, "x2": {"datum": 120.8}, "y": {"datum": 18918.7}, "y2": {"datum": 18814.7}}},
{"mark": {"type": "point", "shape": "M -0.95 -0.5 L -0.1 -0.1 L 0.9 -0.62 L 0.18 0.04 L 0.95 0.58 L -0.02 0.2 L -0.92 0.5 L -0.32 -0.02 Z", "size": 3994, "filled": true, "color": "#ffffff", "opacity": 1},
 "encoding": {"x": {"datum": 115.7}, "y": {"datum": 18866.7}}},
{"mark": {"type": "text", "text": "xtb", "align": "left", "baseline": "alphabetic", "font": "Lato", "fontSize": 58, "fontWeight": 900, "color": "#161616"},
 "encoding": {"x": {"datum": 122.4}, "y": {"datum": 18853.0}}},
{"mark": {"type": "text", "text": "online investing", "align": "left", "baseline": "middle", "font": "Open Sans", "fontSize": 13.5, "color": "#2a2a2a"},
 "encoding": {"x": {"datum": 122.6}, "y": {"datum": 18826.0}}},
{"mark": {"type": "text", "text": "≡", "align": "left", "baseline": "middle", "font": "DejaVu Sans", "fontSize": 12, "color": "#b5b5b5"},
 "encoding": {"x": {"datum": 0.1}, "y": {"datum": 18843.8}}},
{"mark": {"type": "text", "text": "≡", "align": "left", "baseline": "middle", "font": "DejaVu Sans", "fontSize": 12, "color": "#b5b5b5"},
 "encoding": {"x": {"datum": 0.1}, "y": {"datum": 18823.9}}},
{"mark": {"type": "text", "text": "≡", "align": "left", "baseline": "middle", "font": "DejaVu Sans", "fontSize": 12, "color": "#b5b5b5"},
 "encoding": {"x": {"datum": 0.1}, "y": {"datum": 18802.5}}},
{"mark": {"type": "text", "text": "✕", "align": "left", "baseline": "middle", "font": "DejaVu Sans", "fontSize": 9, "color": "#b5b5b5"},
 "encoding": {"x": {"datum": 2.1}, "y": {"datum": 18843.8}}},
{"mark": {"type": "text", "text": "✕", "align": "left", "baseline": "middle", "font": "DejaVu Sans", "fontSize": 9, "color": "#b5b5b5"},
 "encoding": {"x": {"datum": 2.1}, "y": {"datum": 18823.9}}},
{"mark": {"type": "text", "text": "✕", "align": "left", "baseline": "middle", "font": "DejaVu Sans", "fontSize": 9, "color": "#b5b5b5"},
 "encoding": {"x": {"datum": 2.1}, "y": {"datum": 18802.5}}},
{"mark": {"type": "text", "text": "SMA [200, 0] 19316.5", "align": "left", "baseline": "middle", "font": "Roboto", "fontSize": 11, "color": "#7a7a7a"},
 "encoding": {"x": {"datum": 3.7}, "y": {"datum": 18843.8}}},
{"mark": {"type": "text", "text": "SMA [50, 0] 19283.1", "align": "left", "baseline": "middle", "font": "Roboto", "fontSize": 11, "color": "#7a7a7a"},
 "encoding": {"x": {"datum": 3.7}, "y": {"datum": 18823.9}}},
{"mark": {"type": "text", "text": "SMA [20, 0] 19383.5", "align": "left", "baseline": "middle", "font": "Roboto", "fontSize": 11, "color": "#7a7a7a"},
 "encoding": {"x": {"datum": 3.7}, "y": {"datum": 18802.5}}},
{"mark": {"type": "text", "text": "00h 00m", "align": "right", "baseline": "middle", "font": "Roboto", "fontSize": 12, "color": "#f39a1e"},
 "encoding": {"x": {"datum": 270.0}, "y": {"datum": 18811.6}}},
{"mark": {"type": "text", "text": "18769.4", "align": "left", "baseline": "middle", "font": "Roboto", "fontSize": 12, "color": "#333333"},
 "encoding": {"x": {"datum": 271.6}, "y": {"datum": 18796.1}}},
{"mark": {"type": "point", "shape": "M -0.75 0 L 0.75 -1 L 0.75 1 Z", "size": 256, "filled": true, "color": "#4b545e", "opacity": 1},
 "encoding": {"x": {"datum": 270.4}, "y": {"datum": 19651.1}}},
{"mark": {"type": "rect", "color": "#4b545e"},
 "encoding": {"x": {"datum": 271.2}, "x2": {"datum": 278.6}, "y": {"datum": 19663.3}, "y2": {"datum": 19638.9}}},
{"mark": {"type": "text", "text": "19650.8", "align": "left", "baseline": "middle", "font": "Roboto", "fontSize": 12, "color": "#ffffff"},
 "encoding": {"x": {"datum": 271.6}, "y": {"datum": 19651.1}}}
]
},
{
"width": 1793,
"height": 116,
"data": {"values": [{}]},
"layer": [
{"data": {"name": "hist"}, "mark": {"type": "bar", "size": 4},
 "encoding": {
  "x": {"field": "i", "type": "quantitative", "scale": {"domain": [-0.905, 269.5], "nice": false, "zero": false},
        "axis": {"orient": "bottom", "values": [7.4, 24.9, 44.9, 64.9, 84.8, 104.8, 124.7, 144.8, 164.7, 184.8, 204.8, 224.7, 244.6, 264.6],
                 "labelExpr": "['04.10.2024 16:00','10.10 00:00','15.10 08:00','18.10 16:00','24.10 00:00','29.10 04:00','01.11 12:00','06.11 20:00','12.11 04:00','15.11 12:00','20.11 20:00','26.11 04:00','29.11 12:00','02.12 20:00'][indexof([7.4, 24.9, 44.9, 64.9, 84.8, 104.8, 124.7, 144.8, 164.7, 184.8, 204.8, 224.7, 244.6, 264.6], datum.value)]",
                 "labelFont": "Roboto", "labelFontSize": 13, "labelColor": "#333333", "ticks": false, "domain": false, "grid": false, "labelPadding": 3, "title": null, "labelFlush": false, "labelOverlap": false}},
  "y": {"field": "v", "type": "quantitative", "scale": {"domain": [-150, 148], "nice": false, "zero": false}, "axis": null},
  "y2": {"datum": 0},
  "color": {"condition": {"test": "datum.v >= 0", "value": "#2c3aa8"}, "value": "#d10d0d"}
 }},
{"data": {"name": "signal"}, "mark": {"type": "line", "color": "#e4202a", "strokeWidth": 1.3},
 "encoding": {"x": {"field": "i", "type": "quantitative"}, "y": {"field": "v", "type": "quantitative"}}},
{"data": {"name": "macd"}, "mark": {"type": "line", "color": "#4a55c2", "strokeWidth": 1.3},
 "encoding": {"x": {"field": "i", "type": "quantitative"}, "y": {"field": "v", "type": "quantitative"}}},
{"mark": {"type": "point", "shape": "M -0.94 0 A 0.94 1 0 1 0 0.94 0 A 0.94 1 0 1 0 -0.94 0 Z", "size": 1936, "filled": false, "color": "#3b44cc", "strokeWidth": 3, "opacity": 1},
 "encoding": {"x": {"datum": 241.7}, "y": {"datum": 78.7}}},
{"mark": {"type": "text", "text": "≡ ✕", "align": "left", "baseline": "middle", "font": "DejaVu Sans", "fontSize": 10, "color": "#b5b5b5"},
 "encoding": {"x": {"datum": -0.2}, "y": {"datum": -128.5}}},
{"mark": {"type": "text", "text": "MACD [20, 50, 9] 93.21260,  64.87127", "align": "left", "baseline": "middle", "font": "Roboto", "fontSize": 10.5, "color": "#7a7a7a"},
 "encoding": {"x": {"datum": 3.9}, "y": {"datum": -128.5}}},
{"mark": {"type": "text", "text": "146.6726", "align": "left", "baseline": "top", "font": "Roboto", "fontSize": 12, "color": "#333333"},
 "encoding": {"x": {"datum": 271.6}, "y": {"datum": 146.6726}}},
{"mark": {"type": "text", "text": "48.89085", "align": "left", "baseline": "middle", "font": "Roboto", "fontSize": 12, "color": "#333333"},
 "encoding": {"x": {"datum": 271.6}, "y": {"datum": 48.89085}}},
{"mark": {"type": "text", "text": "-48.8909", "align": "left", "baseline": "middle", "font": "Roboto", "fontSize": 12, "color": "#333333"},
 "encoding": {"x": {"datum": 271.6}, "y": {"datum": -48.8909}}},
{"mark": {"type": "text", "text": "-146.673", "align": "left", "baseline": "alphabetic", "font": "Roboto", "fontSize": 12, "color": "#333333"},
 "encoding": {"x": {"datum": 271.6}, "y": {"datum": -146.673}}}
]
}
]
}
